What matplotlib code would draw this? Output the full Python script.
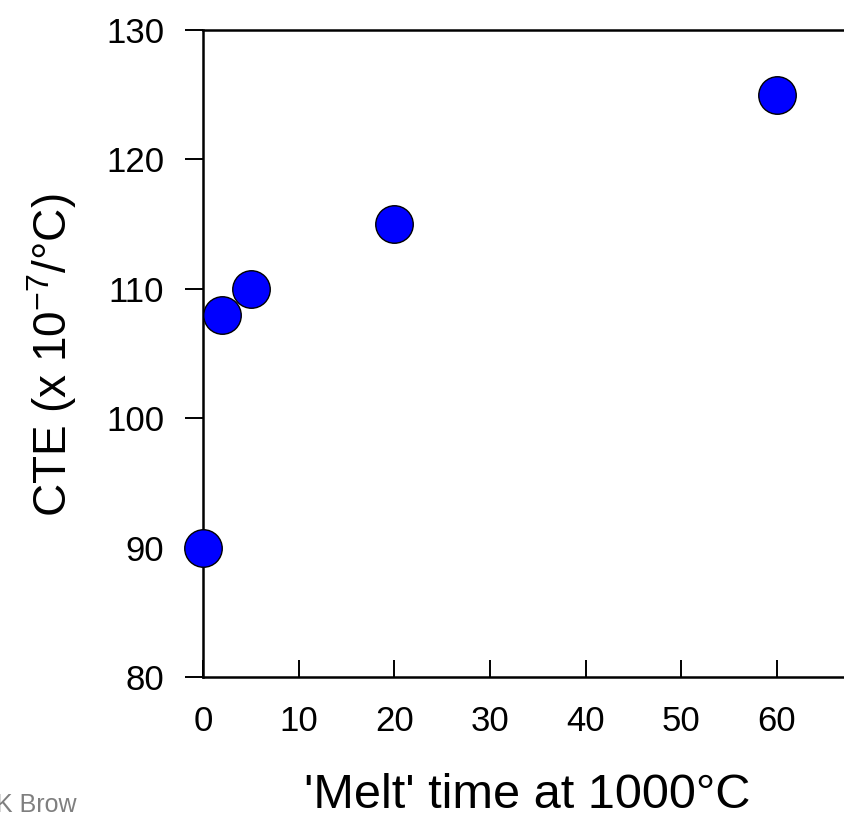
import matplotlib
matplotlib.use("Agg")
import matplotlib.pyplot as plt

melt_time = [0, 2, 5, 20, 60]
cte = [90, 108, 110, 115, 125]
x_ticks = [0, 10, 20, 30, 40, 50, 60]
y_ticks = [80, 90, 100, 110, 120, 130]

plt.rcParams['font.family'] = ['Liberation Sans', 'DejaVu Sans']
plt.rcParams['mathtext.fontset'] = 'custom'
plt.rcParams['mathtext.rm'] = 'Liberation Sans'
plt.rcParams['mathtext.it'] = 'Liberation Sans'

W, H = 845, 815
fig = plt.figure(figsize=(W/100, H/100), dpi=100)
x0, x1 = 203, 203 + 70 * (777 - 203) / 60
y0, y1 = 677, 30
ax = fig.add_axes([x0/W, 1 - y0/H, (x1 - x0)/W, (y0 - y1)/H])
ax.set_xlim(0, 70)
ax.set_ylim(80, 130)

ax.scatter(melt_time, cte, s=27**2, color='#0000ff', edgecolors='black',
           linewidths=1.0, zorder=5, clip_on=False)

ax.set_xticks(x_ticks)
ax.set_yticks(y_ticks)
ax.tick_params(axis='x', direction='in', length=12, width=1.4, labelsize=25, pad=20)
ax.tick_params(axis='y', direction='out', length=13, width=1.4, labelsize=25, pad=15)
for s in ['left', 'bottom', 'top', 'right']:
    ax.spines[s].set_linewidth(1.8)

ax.set_xlabel("'Melt' time at 1000°C", fontsize=35)
ax.xaxis.set_label_coords((527 - x0) / (x1 - x0), (y0 - 808) / (y0 - y1))
ax.xaxis.label.set_va('baseline')
ax.set_ylabel("CTE (x 10$^{-7}$/°C)", fontsize=33)
ax.yaxis.set_label_coords((52 - x0) / (x1 - x0), (y0 - 355) / (y0 - y1))
ax.yaxis.label.set_va('center')

fig.text(-4/W, 1 - 812/H, "K Brow", fontsize=18, color='#7f7f7f', va='baseline', ha='left')

fig.savefig("out.png", dpi=100)
